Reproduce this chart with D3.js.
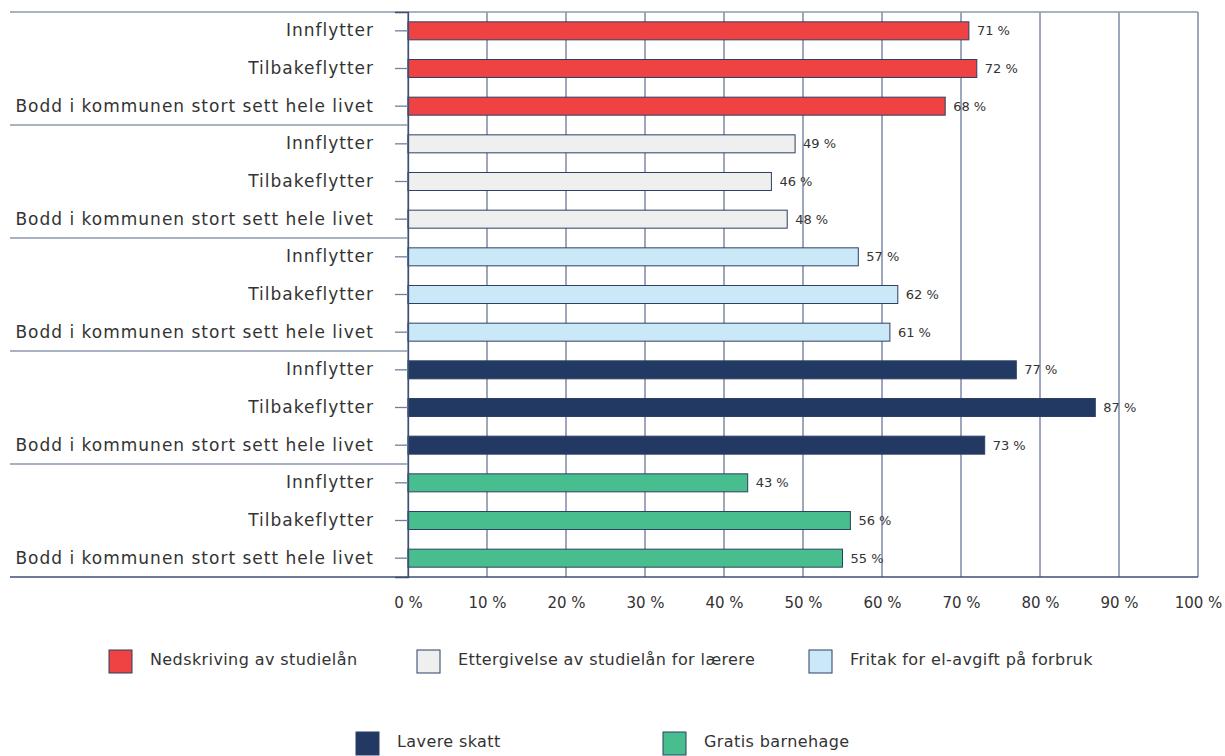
<!DOCTYPE html>
<html>
<head>
<meta charset="utf-8">
<script src="https://cdn.jsdelivr.net/npm/d3@7"></script>
<style>
  html, body { margin: 0; padding: 0; background: #fff; }
  svg { display: block; font-family: "DejaVu Sans", "Open Sans", sans-serif; }
</style>
</head>
<body>
<svg id="chart" width="1225" height="756"></svg>
<script>
// ---- data ----
const measures = [
  "Nedskriving av studielån",
  "Ettergivelse av studielån for lærere",
  "Fritak for el-avgift på forbruk",
  "Lavere skatt",
  "Gratis barnehage"
];
const respondents = ["Innflytter", "Tilbakeflytter", "Bodd i kommunen stort sett hele livet"];
const nedskriving = [71, 72, 68];
const ettergivelse = [49, 46, 48];
const fritak = [57, 62, 61];
const lavereSkatt = [77, 87, 73];
const gratisBarnehage = [43, 56, 55];
const xTicks = [0, 10, 20, 30, 40, 50, 60, 70, 80, 90, 100];

const seriesValues = [nedskriving, ettergivelse, fritak, lavereSkatt, gratisBarnehage];
const colors = ["#ef4242", "#eeefef", "#cbe8f9", "#223a63", "#48be8f"];

// flatten into rows
const rows = [];
seriesValues.forEach((vals, g) => {
  vals.forEach((v, r) => rows.push({ g, label: respondents[r], value: v, idx: rows.length }));
});

// ---- layout ----
const svg = d3.select("#chart");
const plotLeft = 408, plotRight = 1198, plotTop = 12, plotBottom = 577;
const labelLeft = 10;
const barH = 18;
const FONT = "'DejaVu Sans', 'Open Sans', sans-serif";

const x = d3.scaleLinear().domain([0, 100]).range([plotLeft, plotRight]);
const y = d3.scaleBand().domain(rows.map(d => d.idx)).range([plotTop, plotBottom])
  .paddingInner(0).paddingOuter(0);

const gridColor = "#3c4f76";
const sepColor = "#8c99ae";
const textColor = "#333333";

// value labels (drawn beneath gridlines)
svg.append("g").selectAll("text").data(rows).join("text")
  .attr("x", d => x(d.value) + 8)
  .attr("y", d => y(d.idx) + y.bandwidth() / 2)
  .attr("dy", "0.35em")
  .attr("font-size", 13)
  .attr("fill", textColor)
  .text(d => d.value + " %");

// gridlines
svg.append("g").selectAll("line").data(xTicks).join("line")
  .attr("x1", d => x(d)).attr("x2", d => x(d))
  .attr("y1", plotTop).attr("y2", plotBottom)
  .attr("stroke", gridColor).attr("stroke-width", 1);

// top border
svg.append("line").attr("x1", labelLeft).attr("x2", plotRight)
  .attr("y1", plotTop).attr("y2", plotTop)
  .attr("stroke", sepColor).attr("stroke-width", 1.5);

// group separators in label area
const groupBounds = d3.range(1, measures.length).map(g => y(g * respondents.length));
svg.append("g").selectAll("line").data(groupBounds).join("line")
  .attr("x1", labelLeft).attr("x2", plotLeft)
  .attr("y1", d => d).attr("y2", d => d)
  .attr("stroke", sepColor).attr("stroke-width", 1.5);

// bottom axis line
svg.append("line").attr("x1", labelLeft).attr("x2", plotRight)
  .attr("y1", plotBottom).attr("y2", plotBottom)
  .attr("stroke", gridColor).attr("stroke-width", 1.3);

// bars
svg.append("g").selectAll("rect").data(rows).join("rect")
  .attr("x", x(0))
  .attr("y", d => y(d.idx) + (y.bandwidth() - barH) / 2)
  .attr("width", d => x(d.value) - x(0))
  .attr("height", barH)
  .attr("fill", d => colors[d.g])
  .attr("stroke", "#2d3f63").attr("stroke-width", 1);

// y axis: ticks + labels
const yAxis = d3.axisLeft(y).tickSize(13).tickPadding(21).tickFormat(i => rows[i].label);
const ya = svg.append("g").attr("transform", `translate(${plotLeft},0)`).call(yAxis);
ya.select(".domain").attr("stroke", gridColor).attr("stroke-width", 1.3);
ya.selectAll(".tick line").attr("stroke", "#6f7f9c").attr("stroke-width", 1.3);
ya.selectAll(".tick text").attr("font-size", 17).attr("fill", textColor)
  .attr("font-family", FONT).attr("letter-spacing", 1);

// x axis
const xAxis = d3.axisBottom(x).tickValues(xTicks).tickSize(0).tickPadding(20).tickFormat(d => d + " %");
const xa = svg.append("g").attr("transform", `translate(0,${plotBottom})`).call(xAxis);
xa.select(".domain").remove();
xa.selectAll(".tick text").attr("font-size", 15).attr("fill", textColor)
  .attr("font-family", FONT);

// legend
const legendPos = [[109, 661], [417, 661], [809, 661], [356, 743], [663, 743]];
const lg = svg.append("g").selectAll("g").data(measures).join("g")
  .attr("transform", (d, i) => `translate(${legendPos[i][0]},${legendPos[i][1]})`);
lg.append("rect").attr("x", 0).attr("y", -11).attr("width", 23).attr("height", 23)
  .attr("fill", (d, i) => colors[i]).attr("stroke", "#2d3f63").attr("stroke-width", 1);
lg.append("text").attr("x", 41).attr("y", -2).attr("dy", "0.35em")
  .attr("font-size", 16).attr("letter-spacing", 0.4).attr("fill", textColor).text(d => d);
</script>
</body>
</html>
